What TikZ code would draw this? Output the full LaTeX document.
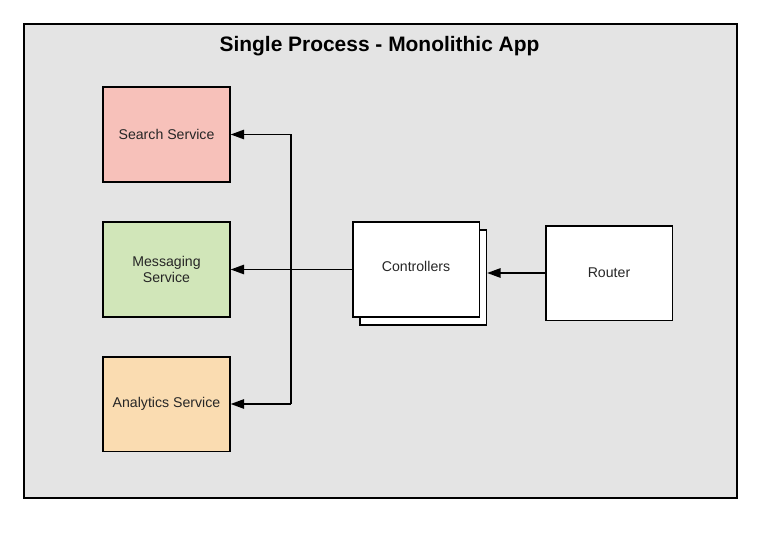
\documentclass[tikz,border=0pt]{standalone}
\usepackage{fontspec}
\setmainfont{Liberation Sans}
\usepackage{xcolor}
\usetikzlibrary{arrows.meta}
\definecolor{bggray}{HTML}{E4E4E4}
\definecolor{searchpink}{HTML}{F7C1BA}
\definecolor{msggreen}{HTML}{D1E6B9}
\definecolor{analyticsorange}{HTML}{FADCB1}

\begin{document}
\begin{tikzpicture}[x=0.75pt,y=-0.75pt,
	box/.style={draw,line width=1.25pt,minimum width=95pt,minimum height=71pt,inner sep=0pt,align=center,font=\fontsize{10.6pt}{12.5pt}\selectfont,text=black!85},
	link/.style={line width=1.2pt,-{Triangle[length=10pt,width=7pt]}}]

	% frame
	\useasboundingbox (0,0) rectangle (768,535);
	\draw[line width=1.25pt,fill=bggray] (24,24) rectangle (737,498);
	\node[font=\bfseries\fontsize{15.7pt}{18pt}\selectfont] (title) at (379.5,46) {Single Process - Monolithic App};

	% services
	\node[box,fill=searchpink] (search) at (166.5,134.5) {Search Service};
	\node[box,fill=msggreen] (msg) at (166.5,269.5) {Messaging\\Service};
	\node[box,fill=analyticsorange] (analytics) at (166.5,404) {Analytics Service};

	% controllers (stacked) and router
	\node[box,fill=white] (ctrlback) at (423,277.5) {};
	\node[box,fill=white] (ctrl) at (416,269.5) {\raisebox{4pt}{Controllers}};
	\node[box,fill=white] (router) at (609,273) {Router};

	\coordinate (bustop) at (291,134.5);
	\coordinate (busbot) at (291,404);

	\draw[link] (router.west) -- (router.west -| ctrlback.east);
	\draw[link] (ctrl.west) -- (msg.east);
	\draw[link] (busbot) -- (bustop) -- (search.east);
	\draw[link] (busbot) -- (analytics.east);

\end{tikzpicture}
\end{document}
